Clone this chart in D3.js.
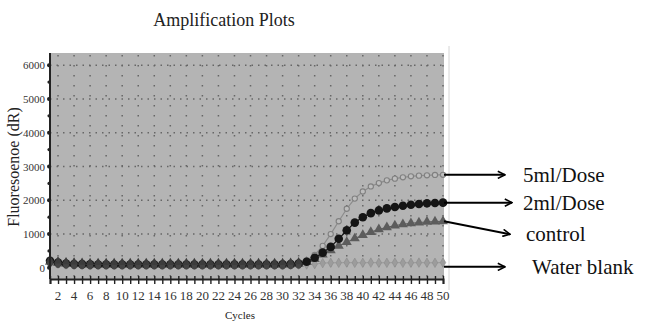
<!DOCTYPE html>
<html>
<head>
<meta charset="utf-8">
<script src="https://cdn.jsdelivr.net/npm/d3@7"></script>
<style>
  body { margin: 0; background: #fff; }
</style>
</head>
<body>
<div id="chart"></div>
<script>
// data
var cycles = d3.range(1, 51);
var fiveMl = [160,130,110,100,95,95,90,90,90,90, 90,90,90,90,90,90,90,90,90,90,
              90,90,90,90,90,90,90,95,100,110, 120,150,220,380,650, 1000,1380,1750,2050,2260,
              2410,2510,2590,2640,2680, 2710,2730,2740,2750,2755];
var twoMl = [210,160,130,115,110,105,100,100,100,100, 100,100,100,100,100,100,100,100,100,100,
             100,100,100,100,100,100,100,100,100,105, 110,130,180,300,450, 620,860,1110,1340,1500,
             1620,1700,1760,1800,1840, 1870,1890,1910,1920,1930];
var control = [180,140,120,110,105,100,100,100,100,100, 100,100,100,100,100,100,100,100,100,100,
               100,100,100,100,100,100,100,100,100,100, 105,120,170,260,390, 520,650,760,870,970,
               1060,1140,1200,1250,1290, 1320,1340,1360,1370,1380];
var waterBlank = [150,120,100,90,90,90,90,90,90,90, 90,90,90,90,90,90,90,90,90,90,
                  90,90,90,90,90,90,90,90,90,90, 90,95,100,110,140, 150,150,155,150,150,
                  155,150,150,155,150, 150,155,150,150,155];
var yTicks = [0, 1000, 2000, 3000, 4000, 5000, 6000];
var xTickLabels = d3.range(2, 51, 2);
var seriesNames = ["5ml/Dose", "2ml/Dose", "control", "Water blank"];

var serif = "'Liberation Serif', 'Times New Roman', Times, serif";
var width = 645, height = 323;
var svg = d3.select("#chart").append("svg")
    .attr("width", width)
    .attr("height", height)
    .style("font-family", serif);

var x = d3.scaleLinear().domain([1, 50]).range([50, 443]);
var y = d3.scaleLinear().domain([-330, 6360]).range([279, 53]);

// plot background
svg.append("rect")
    .attr("x", x(1)).attr("y", y(6360))
    .attr("width", x(50) - x(1) + 1).attr("height", y(-330) - y(6360))
    .style("fill", "#b4b4b4");

// faint right border line
svg.append("line")
    .attr("x1", 449).attr("x2", 449).attr("y1", 46).attr("y2", 290)
    .style("stroke", "#d4d4d4").style("stroke-width", 1);

// dotted grid
var grid = svg.append("g").attr("class", "grid");
grid.selectAll("line.v")
    .data(xTickLabels)
    .enter().append("line")
    .attr("class", "v")
    .attr("x1", function (d) { return x(d); })
    .attr("x2", function (d) { return x(d); })
    .attr("y1", y(6360) + 2).attr("y2", y(-330))
    .style("stroke", "#666")
    .style("stroke-width", 1.5)
    .style("stroke-dasharray", "1.5,8.5");
grid.selectAll("line.h")
    .data(yTicks.slice(1))
    .enter().append("line")
    .attr("class", "h")
    .attr("x1", x(1)).attr("x2", x(50))
    .attr("y1", function (d) { return y(d); })
    .attr("y2", function (d) { return y(d); })
    .style("stroke", "#666")
    .style("stroke-width", 1.5)
    .style("stroke-dasharray", "1.5,5");

// series
var line = d3.line()
    .x(function (d, i) { return x(cycles[i]); })
    .y(function (d) { return y(d); });

function drawSeries(values, color, w) {
    svg.append("path")
        .datum(values)
        .attr("d", line)
        .style("fill", "none")
        .style("stroke", color)
        .style("stroke-width", w);
}

// water blank
drawSeries(waterBlank, "#9a9a9a", 1);
svg.append("g").selectAll("path")
    .data(waterBlank)
    .enter().append("path")
    .attr("transform", function (d, i) { return "translate(" + x(cycles[i]) + "," + y(d) + ")"; })
    .attr("d", d3.symbol().type(d3.symbolDiamond).size(26))
    .style("fill", "#9c9c9c")
    .style("stroke", "#8a8a8a")
    .style("stroke-width", 0.6);

// control
drawSeries(control, "#5a5a5a", 1);
svg.append("g").selectAll("path")
    .data(control)
    .enter().append("path")
    .attr("transform", function (d, i) { return "translate(" + x(cycles[i]) + "," + y(d) + ")"; })
    .attr("d", d3.symbol().type(d3.symbolTriangle).size(44))
    .style("fill", "#5c5c5c");

// 5ml/Dose
drawSeries(fiveMl, "#8c8c8c", 1.2);
svg.append("g").selectAll("circle")
    .data(fiveMl)
    .enter().append("circle")
    .attr("cx", function (d, i) { return x(cycles[i]); })
    .attr("cy", function (d) { return y(d); })
    .attr("r", 2.6)
    .style("fill", "#bdbdbd")
    .style("stroke", "#808080")
    .style("stroke-width", 1.1);

// 2ml/Dose
drawSeries(twoMl, "#111", 1.2);
svg.append("g").selectAll("circle")
    .data(twoMl)
    .enter().append("circle")
    .attr("cx", function (d, i) { return x(cycles[i]); })
    .attr("cy", function (d) { return y(d); })
    .attr("r", 4.3)
    .style("fill", "#151515");

// baseline cluster (overlapping markers look dark grey)
var base = svg.append("g");
base.selectAll("ellipse")
    .data(control.slice(0, 32))
    .enter().append("ellipse")
    .attr("cx", function (d, i) { return x(cycles[i]); })
    .attr("cy", function (d) { return y(d) + 1; })
    .attr("rx", 3)
    .attr("ry", 4)
    .style("fill", "#454545");
base.selectAll("path")
    .data(control.slice(0, 32))
    .enter().append("path")
    .attr("transform", function (d, i) { return "translate(" + x(cycles[i]) + "," + (y(d) - 2) + ")"; })
    .attr("d", d3.symbol().type(d3.symbolTriangle).size(30))
    .style("fill", "#3c3c3c");

// y axis
var yAxis = d3.axisLeft(y)
    .tickValues(yTicks)
    .tickSize(0)
    .tickPadding(5)
    .tickFormat(d3.format("d"));
var yg = svg.append("g")
    .attr("transform", "translate(" + x(1) + ",0)")
    .call(yAxis);
yg.attr("font-family", serif);
yg.select(".domain").remove();
yg.selectAll("text").style("font-size", "11px").style("fill", "#333");
svg.append("line")
    .attr("x1", x(1)).attr("x2", x(1))
    .attr("y1", y(6360)).attr("y2", y(-330))
    .style("stroke", "#222").style("stroke-width", 2);
svg.append("g").selectAll("circle")
    .data(d3.range(0, 6001, 500))
    .enter().append("circle")
    .attr("cx", x(1) - 1)
    .attr("cy", function (d) { return y(d); })
    .attr("r", function (d) { return d % 1000 === 0 ? 2 : 1.6; })
    .style("fill", "#222");

// x axis
var xg = svg.append("g")
    .attr("transform", "translate(0," + y(-330) + ")")
    .call(d3.axisBottom(x)
        .tickValues(cycles)
        .tickSize(5)
        .tickFormat(""));
xg.select(".domain").style("stroke", "#222").style("stroke-width", 2);
xg.selectAll(".tick line").attr("y1", -3).style("stroke", "#222").style("stroke-width", 1.4);
svg.append("g").selectAll("text")
    .data(xTickLabels)
    .enter().append("text")
    .attr("x", function (d) { return x(d); })
    .attr("y", 300)
    .attr("text-anchor", "middle")
    .style("font-size", "13px")
    .style("fill", "#333")
    .text(function (d) { return d; });

// titles
svg.append("text")
    .attr("x", 224).attr("y", 26)
    .attr("text-anchor", "middle")
    .style("font-size", "18px")
    .style("fill", "#222")
    .text("Amplification Plots");
svg.append("text")
    .attr("x", 240).attr("y", 319)
    .attr("text-anchor", "middle")
    .style("font-size", "11px")
    .style("fill", "#222")
    .text("Cycles");
svg.append("text")
    .attr("transform", "translate(19,167) rotate(-90)")
    .attr("text-anchor", "middle")
    .style("font-size", "16px")
    .style("fill", "#222")
    .text("Fluoresoenoe (dR)");

// annotation arrows
var labelData = [
    { name: seriesNames[0], v: fiveMl[49], tipX: 505, tipY: y(fiveMl[49]), tx: 523 },
    { name: seriesNames[1], v: twoMl[49], tipX: 512, tipY: y(twoMl[49]), tx: 523 },
    { name: seriesNames[2], v: control[49], tipX: 510, tipY: y(control[49]) + 13, tx: 526 },
    { name: seriesNames[3], v: 0, tipX: 505, tipY: y(0) - 1, tx: 532 }
];
svg.append("defs").append("marker")
    .attr("id", "head")
    .attr("viewBox", "0 -5 10 10")
    .attr("refX", 9).attr("refY", 0)
    .attr("markerWidth", 4.5).attr("markerHeight", 4.5)
    .attr("markerUnits", "strokeWidth")
    .attr("orient", "auto")
    .append("path")
    .attr("d", "M1,-4L9,0L1,4")
    .style("fill", "none")
    .style("stroke", "#000")
    .style("stroke-width", 1.8);

var ann = svg.append("g").selectAll("g")
    .data(labelData)
    .enter().append("g");
ann.append("line")
    .attr("x1", 444)
    .attr("y1", function (d, i) { return i === 3 ? d.tipY : y(d.v); })
    .attr("x2", function (d) { return d.tipX; })
    .attr("y2", function (d) { return d.tipY; })
    .style("stroke", "#000")
    .style("stroke-width", 2)
    .attr("marker-end", "url(#head)");
ann.append("text")
    .attr("x", function (d) { return d.tx; })
    .attr("y", function (d) { return d.tipY + 7; })
    .style("font-size", "21px")
    .style("fill", "#111")
    .text(function (d) { return d.name; });
</script>
</body>
</html>
